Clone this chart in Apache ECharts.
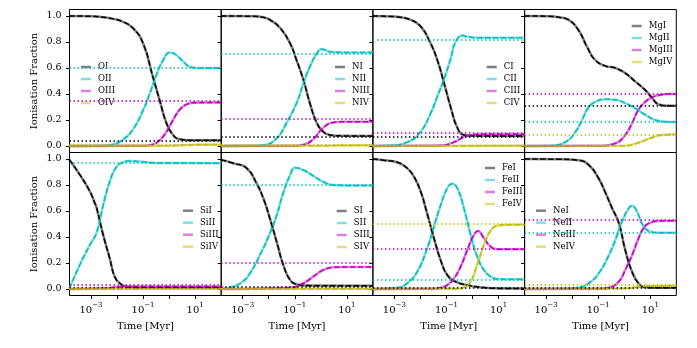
<!DOCTYPE html>
<html>
<head>
<meta charset="utf-8">
<script src="https://cdn.jsdelivr.net/npm/echarts@6/dist/echarts.min.js"></script>
<style>
html, body { margin: 0; padding: 0; background: #fff; }
#chart { width: 697px; height: 348px; }
</style>
</head>
<body>
<div id="chart"></div>
<script>
// time axis is log10(t / Myr)
const tMin = Math.log10(1.5e-4);
const tMax = 2;
const yTicks = [0, 0.2, 0.4, 0.6, 0.8, 1.0];
const xTicks = [-3, -2, -1, 0, 1];
const xLabels = [-3, -1, 1];

const elements = ['O', 'N', 'C', 'Mg', 'Si', 'S', 'Fe', 'Ne'];
const stages = ['I', 'II', 'III', 'IV'];

// [log10 t, fraction]
const OI = [[-3.83,1.0],[-3,0.998],[-2.5,0.99],[-2.15,0.978],[-1.77,0.955],[-1.38,0.905],[-1.0,0.79],[-0.62,0.53],[-0.36,0.35],[-0.1,0.175],[0.15,0.085],[0.41,0.052],[0.8,0.045],[2,0.045]];
const OII = [[-3.83,0],[-2.6,0.002],[-2.2,0.01],[-1.8,0.045],[-1.38,0.13],[-1.0,0.275],[-0.74,0.405],[-0.49,0.545],[-0.23,0.66],[0.03,0.72],[0.28,0.70],[0.54,0.65],[0.79,0.61],[1.1,0.60],[2,0.60]];
const OIII = [[-3.83,0],[-1.0,0.002],[-0.62,0.012],[-0.36,0.045],[-0.1,0.11],[0.15,0.2],[0.41,0.28],[0.67,0.32],[0.95,0.333],[2,0.335]];
const OIV = [[-3.83,0],[0,0.002],[1,0.01],[2,0.012]];
const eqO = [0.04, 0.60, 0.35, 0.01];

const NI = [[-3.83,1],[-2.6,0.998],[-2.22,0.99],[-1.95,0.97],[-1.57,0.91],[-1.18,0.79],[-0.93,0.66],[-0.67,0.51],[-0.42,0.33],[-0.16,0.18],[0.09,0.11],[0.35,0.085],[0.8,0.078],[2,0.077]];
const NII = [[-3.83,0],[-2.6,0.001],[-2.21,0.006],[-1.69,0.06],[-1.31,0.18],[-0.93,0.33],[-0.67,0.48],[-0.42,0.61],[-0.16,0.71],[0.03,0.745],[0.35,0.725],[0.8,0.72],[2,0.72]];
const NIII = [[-3.83,0],[-1,0.002],[-0.67,0.01],[-0.3,0.05],[0.09,0.14],[0.47,0.18],[0.9,0.187],[2,0.187]];
const NIV = [[-3.83,0],[0.5,0.003],[2,0.005]];
const eqN = [0.072, 0.713, 0.208, 0.005];

const CI = [[-3.83,1],[-3.1,0.997],[-2.76,0.99],[-2.37,0.97],[-1.99,0.92],[-1.61,0.79],[-1.35,0.66],[-1.10,0.49],[-0.84,0.30],[-0.58,0.14],[-0.33,0.085],[0,0.078],[2,0.077]];
const CII = [[-3.83,0],[-3.2,0.003],[-2.5,0.03],[-1.99,0.11],[-1.61,0.25],[-1.35,0.38],[-1.1,0.51],[-0.84,0.67],[-0.65,0.80],[-0.39,0.85],[-0.2,0.84],[0.2,0.833],[2,0.832]];
const CIII = [[-3.83,0],[-1.22,0.003],[-0.71,0.03],[-0.33,0.07],[-0.07,0.085],[0.4,0.09],[2,0.09]];
const CIV = [[-3.83,0],[2,0.003]];
const eqC = [0.067, 0.825, 0.10, 0.003];

const MgI = [[-3.83,1],[-2.9,0.998],[-2.51,0.99],[-2.13,0.97],[-1.75,0.89],[-1.42,0.76],[-1.11,0.66],[-0.72,0.615],[-0.34,0.60],[0.04,0.56],[0.43,0.495],[0.81,0.43],[1.07,0.37],[1.32,0.32],[1.71,0.31],[2,0.31]];
const MgII = [[-3.83,0],[-2.9,0.002],[-2.26,0.03],[-1.87,0.11],[-1.62,0.20],[-1.36,0.30],[-1.11,0.34],[-0.72,0.36],[-0.34,0.355],[0.04,0.33],[0.43,0.29],[0.81,0.24],[1.19,0.20],[1.58,0.187],[2,0.185]];
const MgIII = [[-3.83,0],[-1.0,0.002],[-0.34,0.02],[0.04,0.085],[0.3,0.175],[0.55,0.28],[0.81,0.34],[1.07,0.375],[1.32,0.39],[1.7,0.40],[2,0.40]];
const MgIV = [[-3.83,0],[0.0,0.002],[0.3,0.01],[0.68,0.035],[1.07,0.065],[1.45,0.085],[2,0.09]];
const eqMg = [0.31, 0.187, 0.40, 0.087];

const SiI = [[-3.83,0.995],[-3.43,0.88],[-3.04,0.75],[-2.85,0.66],[-2.79,0.63],[-2.53,0.415],[-2.28,0.236],[-2.09,0.095],[-1.89,0.044],[-1.64,0.018],[-1,0.01],[2,0.01]];
const SiII = [[-3.83,0.003],[-3.43,0.185],[-3.04,0.34],[-2.79,0.43],[-2.53,0.646],[-2.28,0.825],[-2.02,0.94],[-1.77,0.975],[-1.51,0.985],[-1.13,0.98],[-0.5,0.97],[2,0.968]];
const SiIII = [[-3.83,0],[-2.5,0.005],[-2,0.015],[-1.5,0.02],[2,0.02]];
const SiIV = [[-3.83,0],[2,0.002]];
const eqSi = [0.01, 0.967, 0.025, 0.002];

const SI = [[-3.83,0.995],[-3.36,0.967],[-2.85,0.93],[-2.46,0.81],[-2.21,0.70],[-1.95,0.54],[-1.69,0.36],[-1.44,0.185],[-1.18,0.07],[-0.93,0.036],[-0.55,0.026],[2,0.025]];
const SII = [[-3.83,0],[-3.36,0.018],[-3.0,0.056],[-2.72,0.12],[-2.34,0.26],[-1.95,0.43],[-1.69,0.57],[-1.44,0.74],[-1.18,0.877],[-0.99,0.933],[-0.67,0.915],[-0.29,0.87],[0.09,0.825],[0.47,0.80],[1,0.797],[2,0.797]];
const SIII = [[-3.83,0],[-1.18,0.01],[-0.67,0.044],[-0.29,0.095],[0.09,0.146],[0.47,0.167],[1,0.17],[2,0.17]];
const SIV = [[-3.83,0],[2,0.002]];
const eqS = [0.022, 0.795, 0.197, 0.002];

const FeI = [[-3.83,1.0],[-3.4,0.99],[-2.89,0.975],[-2.51,0.93],[-2.25,0.865],[-1.99,0.75],[-1.74,0.58],[-1.48,0.39],[-1.22,0.22],[-0.97,0.108],[-0.65,0.056],[-0.2,0.03],[0.31,0.013],[0.82,0.005],[2,0.003]];
const FeII = [[-3.83,0],[-2.89,0.01],[-2.51,0.044],[-2.12,0.133],[-1.74,0.313],[-1.48,0.48],[-1.22,0.646],[-0.97,0.775],[-0.78,0.81],[-0.58,0.775],[-0.33,0.62],[-0.07,0.415],[0.18,0.25],[0.44,0.146],[0.7,0.095],[0.95,0.077],[1.5,0.075],[2,0.075]];
const FeIII = [[-3.83,0],[-1.5,0.002],[-1.22,0.01],[-0.97,0.03],[-0.71,0.082],[-0.46,0.17],[-0.2,0.30],[0.05,0.415],[0.21,0.446],[0.44,0.39],[0.7,0.325],[0.95,0.305],[1.5,0.305],[2,0.305]];
const FeIV = [[-3.83,0],[-0.6,0.002],[-0.3,0.015],[-0.07,0.056],[0.18,0.185],[0.44,0.34],[0.7,0.45],[0.95,0.487],[1.33,0.495],[2,0.495]];
const eqFe = [0.008, 0.075, 0.307, 0.497];

const NeI = [[-3.83,1],[-2.5,0.998],[-1.75,0.99],[-1.36,0.954],[-0.98,0.85],[-0.72,0.74],[-0.46,0.62],[-0.21,0.51],[0.04,0.30],[0.3,0.133],[0.55,0.044],[0.81,0.013],[1.2,0.01],[2,0.01]];
const NeII = [[-3.83,0],[-2.2,0.002],[-1.75,0.01],[-1.36,0.044],[-0.98,0.12],[-0.59,0.26],[-0.34,0.377],[-0.08,0.52],[0.17,0.62],[0.3,0.64],[0.49,0.595],[0.68,0.505],[0.94,0.446],[1.32,0.433],[2,0.433]];
const NeIII = [[-3.83,0],[-0.9,0.002],[-0.59,0.01],[-0.21,0.056],[0.04,0.146],[0.3,0.26],[0.55,0.39],[0.74,0.467],[0.94,0.505],[1.32,0.523],[2,0.525]];
const NeIV = [[-3.83,0],[0,0.003],[0.5,0.015],[0.9,0.023],[2,0.025]];
const eqNe = [0.005, 0.433, 0.525, 0.03];

const curves = {
  O: [OI, OII, OIII, OIV], N: [NI, NII, NIII, NIV], C: [CI, CII, CIII, CIV], Mg: [MgI, MgII, MgIII, MgIV],
  Si: [SiI, SiII, SiIII, SiIV], S: [SI, SII, SIII, SIV], Fe: [FeI, FeII, FeIII, FeIV], Ne: [NeI, NeII, NeIII, NeIV]
};
const equil = { O: eqO, N: eqN, C: eqC, Mg: eqMg, Si: eqSi, S: eqS, Fe: eqFe, Ne: eqNe };

const rgb = ['0,0,0', '0,191,191', '191,0,191', '191,191,0'];
const font = 'DejaVu Serif';
const colLeft = [69.5, 221.2, 372.9, 524.6];
const rowTop = [9.5, 152.5];
const legendPos = [[76, 57], [330, 57], [481.7, 57], [626.7, 16], [178, 200.7], [331.7, 201], [480, 158], [531, 200.7]];

let grid = [], xAxis = [], yAxis = [], series = [], legend = [];

elements.forEach((el, i) => {
  const col = i % 4, row = Math.floor(i / 4);
  grid.push({
    left: colLeft[col], top: rowTop[row], width: 151.7, height: 143,
    show: true, borderColor: '#000', borderWidth: 1, backgroundColor: 'transparent'
  });
  xAxis.push({
    gridIndex: i, type: 'value', min: tMin, max: tMax, position: 'bottom',
    axisLine: { show: false, onZero: false }, splitLine: { show: false },
    axisTick: { show: row === 1, customValues: xTicks, length: 3.5, lineStyle: { color: '#000' } },
    axisLabel: {
      show: row === 1, customValues: xLabels, margin: 6, color: '#000',
      formatter: v => '{b|10}{s|' + (v < 0 ? '\u2212' : '') + Math.abs(v) + '}',
      rich: {
        b: { fontFamily: font, fontSize: 10, color: '#000' },
        s: { fontFamily: font, fontSize: 7, color: '#000', padding: [0, 0, 10, 0] }
      }
    },
    name: row === 1 ? 'Time [Myr]' : '', nameLocation: 'middle', nameGap: 26,
    nameTextStyle: { fontFamily: font, fontSize: 10, color: '#000' }
  });
  yAxis.push({
    gridIndex: i, type: 'value', min: -0.05, max: 1.05, position: 'left',
    axisLine: { show: false, onZero: false }, splitLine: { show: false },
    axisTick: { show: true, customValues: yTicks, length: 3.5, lineStyle: { color: '#000' } },
    axisLabel: {
      show: col === 0, customValues: yTicks, margin: 8, formatter: v => v.toFixed(1),
      fontFamily: font, fontSize: 9.5, color: '#000'
    },
    name: col === 0 ? 'Ionisation Fraction' : '', nameLocation: 'middle', nameGap: 30,
    nameTextStyle: { fontFamily: font, fontSize: 10, color: '#000' }
  });

  stages.forEach((st, k) => {
    const light = 'rgba(' + rgb[k] + ',0.5)';
    const full = 'rgb(' + rgb[k] + ')';
    const data = curves[el][k];
    series.push({
      name: el + st, type: 'line', xAxisIndex: i, yAxisIndex: i, data: data,
      smooth: 0.5, symbol: 'none', showSymbol: false,
      lineStyle: { color: light, width: 2.5 }, itemStyle: { color: light },
      emphasis: { disabled: true }, z: 2
    });
    series.push({
      name: el + st + '_dash', type: 'line', xAxisIndex: i, yAxisIndex: i, data: data,
      smooth: 0.5, symbol: 'none', showSymbol: false,
      lineStyle: { color: full, width: 1.5, type: [5.5, 2.4] }, itemStyle: { color: full },
      emphasis: { disabled: true }, z: 3,
      markLine: {
        silent: true, symbol: ['none', 'none'], label: { show: false }, animation: false,
        lineStyle: { color: full, width: 1.5, type: [1.5, 2.5] },
        data: [{ yAxis: equil[el][k] }]
      }
    });
  });

  legend.push({
    data: stages.map(s => el + s), orient: 'vertical',
    left: legendPos[i][0], top: legendPos[i][1],
    icon: 'rect', itemWidth: 10, itemHeight: 2.5, itemGap: 2, selectedMode: false,
    textStyle: { fontFamily: font, fontSize: 8.5, color: '#000', lineHeight: 10, padding: [0, 0, 0, 2] }
  });
});

const chart = echarts.init(document.getElementById('chart'));
chart.setOption({
  animation: false,
  backgroundColor: '#fff',
  grid: grid,
  xAxis: xAxis,
  yAxis: yAxis,
  legend: legend,
  series: series
});
</script>
</body>
</html>
